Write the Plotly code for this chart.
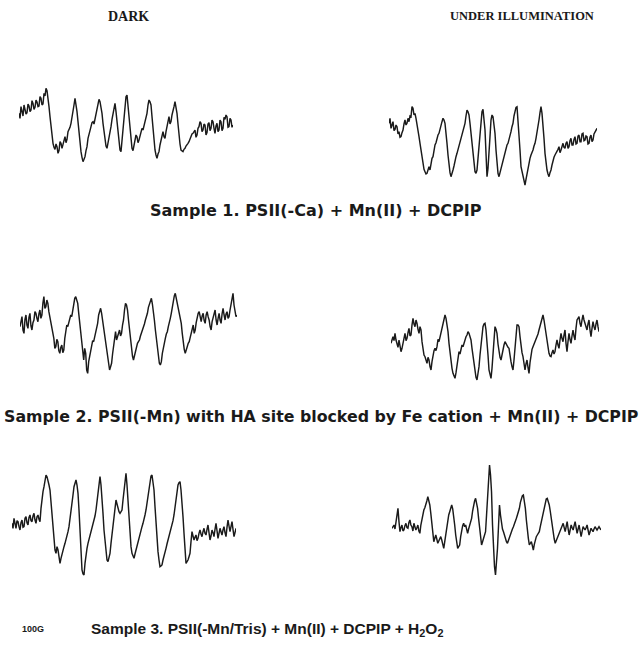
import numpy as np
import plotly.graph_objects as go

W, H = 643, 653

# EPR amplitudes (arbitrary units), one sample per ~1 px of field
dark_1 = [150,135,170,158,142,175,165,148,152,178,172,155,160,188,180,162,168,190,184,170,172,200,195,175,178,210,202,225,218,200,
          170,140,110,85,60,48,42,58,50,30,38,65,60,45,55,72,80,62,72,95,100,108,120,138,145,175,195,180,155,125,90,60,35,18,5,12,20,38,
          50,75,90,98,110,122,125,118,135,148,160,178,192,185,170,150,120,90,65,52,45,60,75,95,110,132,150,168,180,155,120,85,50,40,35,
          70,100,145,180,200,205,170,130,90,55,45,38,55,65,85,80,62,70,82,90,105,100,112,125,140,150,175,190,185,175,140,100,70,40,25,15,
          28,35,55,70,90,95,80,75,95,110,130,140,118,125,145,155,170,185,172,150,118,80,58,40,36,35,42,45,52,55,60,65,75,80,88,90,98,100,
          78,85,105,110,125,120,95,100,118,115,85,92,118,122,98,105,130,125,105,90,112,120,95,100,130,125,98,105,138,132,145,140,108,110,
          135,130,108,115]
light_1 = [200,215,185,198,205,178,182,195,190,168,175,158,160,172,180,198,210,195,200,215,205,222,220,250,245,225,230,215,200,180,
           160,140,120,95,75,62,55,48,50,62,70,60,85,95,100,120,135,142,155,165,170,185,195,205,215,210,200,175,140,105,70,52,40,48,60,
           72,90,100,110,122,130,142,150,162,175,188,200,222,240,235,225,200,170,135,100,75,55,50,60,95,130,175,210,235,242,215,180,110,
           40,65,100,160,210,225,220,200,170,120,70,50,40,52,70,80,90,102,115,128,135,140,150,165,175,190,200,222,240,248,250,215,170,
           120,70,55,40,25,15,32,50,68,85,95,105,112,120,132,140,155,170,188,210,232,250,230,200,155,110,82,60,48,40,52,60,75,90,98,105,
           110,115,122,130,112,120,132,140,128,125,140,145,125,130,148,155,135,135,152,160,138,140,162,165,145,145,168,170,148,150,162,
           160,138,140,158,165,145,150,168,175,180,185]
dark_2 = [160,178,190,150,140,182,195,165,155,188,200,162,150,172,180,205,200,185,175,198,210,185,195,230,250,215,220,240,230,205,
          190,170,150,138,125,95,100,122,115,88,80,98,105,82,90,125,150,165,160,172,180,195,190,212,220,245,250,240,230,200,170,135,
          100,75,60,95,80,30,20,55,70,88,100,118,115,128,140,158,170,195,210,215,200,180,160,140,120,95,70,48,30,40,50,78,100,125,145,
          120,130,145,150,132,140,165,180,210,230,225,210,180,150,118,90,72,60,75,80,98,110,115,120,132,140,150,155,168,180,188,200,218,
          230,240,245,228,210,180,150,125,100,75,50,45,55,80,100,115,125,138,145,160,170,185,200,222,240,252,260,245,230,222,210,192,170,
          140,110,92,80,95,100,110,115,128,140,155,165,140,150,172,190,200,205,182,175,192,200,178,170,195,205,190,180,160,150,175,190,
          205,210,180,165,185,200,180,170,198,215,195,180,198,205,185,190,210,230,250,260,225,200,190,195]
light_2 = [140,155,160,148,170,150,135,128,150,130,115,125,140,162,170,148,155,172,185,162,165,195,215,198,190,210,200,182,170,190,
           180,145,115,105,100,88,80,98,90,70,60,85,105,118,125,118,130,152,145,160,170,190,205,218,225,215,200,175,140,110,85,65,50,40,
           35,52,70,92,115,108,125,135,130,142,150,160,165,175,170,162,150,125,100,75,50,38,30,48,70,105,140,168,190,198,200,180,150,105,
           60,42,35,65,100,150,190,182,170,138,110,98,90,110,120,135,145,138,135,128,125,100,85,70,60,90,120,160,195,195,190,160,130,112,
           100,75,60,78,90,68,50,82,110,122,130,138,140,150,160,168,180,190,200,215,225,210,190,165,140,122,110,102,100,112,120,108,115,
           135,150,135,125,150,170,155,145,165,180,140,115,145,170,152,140,162,180,162,150,185,210,215,220,200,190,210,225,210,200,185,
           180,198,210,180,160,185,205,190,180,198,210,190,175]
dark_3 = [210,195,225,210,195,218,215,200,190,212,220,198,200,225,230,212,205,228,235,218,215,232,240,220,210,230,235,222,215,255,
          290,305,320,340,355,350,340,325,310,275,230,185,145,130,120,140,130,105,90,105,120,132,140,150,160,172,185,200,220,245,270,
          295,320,335,340,325,300,250,190,130,70,58,55,90,120,135,150,162,175,185,200,208,215,232,250,280,305,330,350,325,290,240,190,
          150,110,100,95,108,120,150,180,205,230,255,280,268,255,245,240,245,250,280,310,340,360,325,280,225,170,140,120,110,105,118,
          130,145,160,172,185,192,200,210,220,235,250,270,290,318,340,352,355,338,310,260,210,165,125,100,80,82,85,100,115,125,135,148,
          160,170,180,190,200,218,235,258,280,305,325,332,335,310,280,230,180,135,90,95,100,110,120,155,185,172,160,168,175,158,165,180,
          190,178,170,185,195,180,175,192,205,182,160,172,190,182,170,192,210,188,165,180,195,185,175,190,200,182,170,198,220,202,185,
          200,215,192,170,182,195]
light_3 = [180,185,190,178,200,225,240,200,170,182,190,172,175,188,195,182,180,198,205,190,185,172,195,185,175,182,190,172,165,190,
           210,225,235,242,250,262,275,265,250,225,200,170,140,150,160,148,135,142,150,155,145,132,120,140,160,185,210,220,230,242,250,
           238,220,190,160,138,120,125,130,155,180,188,195,185,190,178,165,178,190,200,210,232,250,262,270,255,240,210,180,155,130,140,
           150,160,170,220,270,330,370,340,290,190,100,65,40,75,120,185,250,220,190,178,170,158,145,140,135,145,155,162,170,178,185,192,
           200,210,220,230,240,258,270,278,280,262,240,205,170,150,130,135,140,128,115,132,150,155,160,165,170,185,200,215,230,245,260,
           268,270,262,250,232,210,185,160,148,135,142,150,158,165,172,180,188,195,182,170,185,200,178,160,175,190,182,175,188,200,182,
           165,178,190,172,155,170,185,180,175,182,190,175,160,170,180,175,170,178,185,180,175,180,185,180,175]

column_titles = ["DARK", "UNDER ILLUMINATION"]
sample_labels = [
    "Sample 1. PSII(-Ca) + Mn(II) + DCPIP",
    "Sample 2. PSII(-Mn) with HA site blocked by Fe cation + Mn(II) + DCPIP",
    "Sample 3. PSII(-Mn/Tris) + Mn(II) + DCPIP + H<sub>2</sub>O<sub>2</sub>",
]
scale_label = "100G"

FIELD0 = 3000.0   # G
STEP = 3.75       # G per sample

# placement: (series, left px, right px, top px, amplitude at top, height px)
panels = [
    (dark_1, 19, 233, 80, 250, 90),
    (light_1, 389, 597, 90, 300, 110),
    (dark_2, 20, 237, 280, 300, 100),
    (light_2, 391, 599, 290, 300, 100),
    (dark_3, 12, 236, 460, 400, 130),
    (light_3, 392, 601, 455, 400, 140),
]

fig = go.Figure()
layout = {}
for i, (vals, x0, x1, top, amp_top, hpx) in enumerate(panels, start=1):
    vals = np.array(vals, dtype=float)
    n = len(vals)
    field = FIELD0 + np.arange(n) * STEP
    ax = "" if i == 1 else str(i)
    fig.add_trace(go.Scatter(x=field, y=vals, mode="lines",
                             line=dict(color="#1a1a1a", width=1.45),
                             xaxis="x" + ax, yaxis="y" + ax, showlegend=False,
                             hoverinfo="skip"))
    common = dict(visible=False, showgrid=False, zeroline=False, fixedrange=True)
    layout["xaxis" + ax] = dict(domain=[x0 / W, x1 / W], range=[field[0], field[-1]],
                                anchor="y" + ax, **common)
    amp_bot = amp_top - 3 * hpx
    layout["yaxis" + ax] = dict(domain=[1 - (top + hpx) / H, 1 - top / H],
                                range=[amp_bot, amp_top], anchor="x" + ax, **common)

annotations = []
def label(text, xpx, ypx, size, family, anchor="center"):
    annotations.append(dict(text=text, x=xpx / W, y=1 - ypx / H, xref="paper", yref="paper",
                            xanchor=anchor, yanchor="middle", showarrow=False,
                            font=dict(family=family, size=size, color="#1a1a1a")))

serif = "Liberation Serif"
sans = "Liberation Sans"
wide = "DejaVu Sans"
label("<b>" + column_titles[0] + "</b>", 128, 16, 14, serif)
label("<b>" + column_titles[1] + "</b>", 522, 16, 12.5, serif)
label("<b>" + sample_labels[0] + "</b>", 316, 211, 16, wide)
label("<b>" + sample_labels[1] + "</b>", 321, 416, 15.8, wide)
label("<b>" + sample_labels[2] + "</b>", 89, 629, 15.5, sans, anchor="left")
label("<b>" + scale_label + "</b>", 20, 629, 9, sans, anchor="left")

fig.update_layout(width=W, height=H, margin=dict(l=0, r=0, t=0, b=0),
                  paper_bgcolor="white", plot_bgcolor="rgba(0,0,0,0)",
                  annotations=annotations, **layout)
fig.write_html("out.html", config={"displayModeBar": False})
